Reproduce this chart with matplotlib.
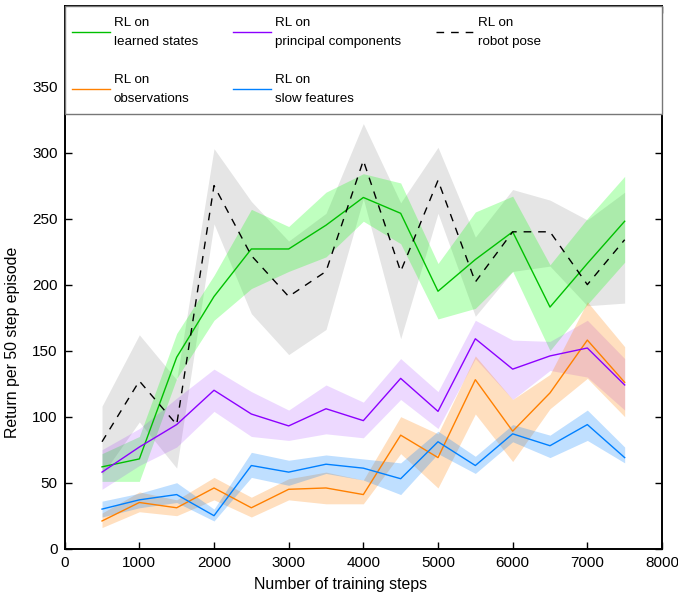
import numpy as np
import matplotlib.pyplot as plt
from matplotlib.patches import Rectangle

plt.rcParams['font.family'] = ['Liberation Sans', 'DejaVu Sans']

steps = [500, 1000, 1500, 2000, 2500, 3000, 3500, 4000, 4500, 5000, 5500, 6000, 6500, 7000, 7500]

# RL on robot pose (dashed, gray band)
pose_mean = [81, 127, 94, 275, 222, 191, 210, 294, 210, 279, 202, 240, 240, 200, 234]
pose_hi = [108, 162, 128, 303, 263, 233, 254, 322, 262, 304, 236, 272, 264, 249, 270]
pose_lo = [56, 96, 61, 246, 178, 147, 166, 265, 159, 254, 176, 210, 214, 184, 186]

# RL on learned states
learned_mean = [62, 68, 145, 191, 227, 227, 245, 266, 254, 195, 219, 240, 183, 216, 248]
learned_hi = [72, 85, 163, 207, 257, 244, 270, 284, 277, 216, 255, 267, 215, 250, 282]
learned_lo = [51, 51, 129, 173, 197, 210, 221, 248, 231, 174, 182, 210, 150, 185, 217]

# RL on principal components
pca_mean = [58, 77, 94, 120, 102, 93, 106, 97, 129, 104, 159, 136, 146, 152, 124]
pca_hi = [75, 91, 114, 136, 119, 105, 124, 111, 144, 119, 173, 158, 157, 173, 144]
pca_lo = [45, 63, 77, 104, 85, 82, 87, 84, 113, 91, 144, 113, 135, 130, 105]

# RL on observations
obs_mean = [21, 35, 31, 46, 31, 45, 46, 41, 86, 69, 128, 89, 118, 158, 126]
obs_hi = [27, 43, 37, 54, 39, 53, 58, 52, 100, 87, 146, 113, 132, 187, 153]
obs_lo = [16, 28, 25, 37, 24, 37, 34, 34, 72, 46, 102, 66, 106, 129, 100]

# RL on slow features
sfa_mean = [30, 37, 41, 25, 63, 58, 64, 61, 53, 81, 63, 87, 78, 94, 69]
sfa_hi = [36, 42, 50, 30, 73, 67, 71, 68, 65, 89, 70, 94, 86, 105, 77]
sfa_lo = [24, 31, 35, 21, 54, 48, 57, 52, 41, 72, 57, 81, 69, 82, 65]

fig = plt.figure(figsize=(6.78, 5.95), dpi=100)
ax = fig.add_axes([0.0954, 0.0778, 0.8810, 0.9121])

ax.fill_between(steps, pose_lo, pose_hi, color='black', alpha=0.1, lw=0)
ax.fill_between(steps, learned_lo, learned_hi, color='#00ff00', alpha=0.25, lw=0)
ax.fill_between(steps, pca_lo, pca_hi, color='#8c00ff', alpha=0.15, lw=0)
ax.fill_between(steps, obs_lo, obs_hi, color='#ff8000', alpha=0.25, lw=0)
ax.fill_between(steps, sfa_lo, sfa_hi, color='#0080ff', alpha=0.25, lw=0)

ax.plot(steps, learned_mean, color='#00c000', lw=1.0, label='RL on\nlearned states')
ax.plot(steps, obs_mean, color='#ff8000', lw=1.0, label='RL on\nobservations')
ax.plot(steps, pca_mean, color='#8c00ff', lw=1.0, label='RL on\nprincipal components')
ax.plot(steps, sfa_mean, color='#0080ff', lw=1.0, label='RL on\nslow features')
ax.plot(steps, pose_mean, color='black', lw=1.0, dashes=(5.5, 5), label='RL on\nrobot pose')

ax.set_xlim(0, 8000)
ax.set_ylim(0, 411)
ax.set_xticks(range(0, 8001, 1000))
ax.set_yticks(range(0, 351, 50))
ax.tick_params(direction='in', length=5, width=1, labelsize=11, pad=5,
               top=True, right=True)
for s in ax.spines.values():
    s.set_linewidth(1.4)

ax.set_xlabel('Number of training steps', fontsize=11.4)
ax.xaxis.set_label_coords(0.4626, -0.052)
ax.set_ylabel('Return per 50 step episode', fontsize=11.4)
ax.yaxis.set_label_coords(-0.075, 0.38)

# legend panel over the top of the plot
ax.add_patch(Rectangle((0, 0.801), 1, 0.199, transform=ax.transAxes,
                       facecolor='white', edgecolor='#777777', lw=1.0,
                       zorder=4, clip_on=False))
leg = ax.legend(loc='upper left', bbox_to_anchor=(0.0122, 0.979), ncol=3,
                frameon=False, fontsize=9.6, handlelength=2.85,
                handletextpad=0.3, columnspacing=2.6, labelspacing=2.0,
                borderpad=0, borderaxespad=0)
leg.set_zorder(5)
for t in leg.get_texts():
    t.set_linespacing(1.7)

fig.savefig('out.png', dpi=100)
